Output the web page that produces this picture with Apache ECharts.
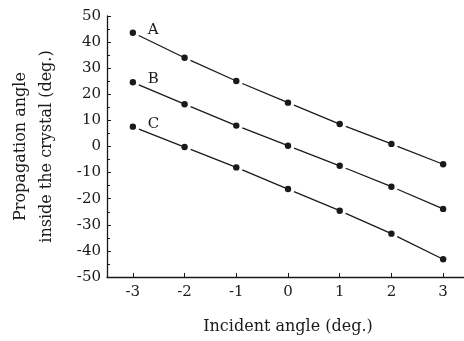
<!DOCTYPE html>
<html><head><meta charset="utf-8">
<script src="https://cdn.jsdelivr.net/npm/echarts@6/dist/echarts.min.js"></script>
<style>html,body{margin:0;padding:0;background:#fff}#c{width:464px;height:341px}</style>
</head><body><div id="c"></div>
<script>
var incident = [-3, -2, -1, 0, 1, 2, 3];
var seriesA = [43.6, 34.0, 25.1, 16.8, 8.6, 1.0, -6.8];
var seriesB = [24.6, 16.2, 8.0, 0.3, -7.4, -15.4, -23.9];
var seriesC = [7.6, -0.2, -8.0, -16.3, -24.6, -33.4, -43.2];
var seriesNames = ['A', 'B', 'C'];
var yTitle = 'Propagation angle\ninside the crystal (deg.)';
var xTitle = 'Incident angle (deg.)';
var FONT = 'DejaVu Serif';
var INK = '#1a1a1a';

function build(vals) {
  var d = [];
  for (var i = 0; i < vals.length; i++) {
    var nx = i < vals.length - 1 ? incident[i + 1] : incident[i];
    var ny = i < vals.length - 1 ? vals[i + 1] : vals[i];
    d.push([incident[i], vals[i], nx, ny, i]);
  }
  return d;
}
function makeSeries(name, vals) {
  return {
    type: 'custom',
    name: name,
    data: build(vals),
    encode: {x: 0, y: 1},
    z: 5,
    renderItem: function (params, api) {
      var p = api.coord([api.value(0), api.value(1)]);
      var q = api.coord([api.value(2), api.value(3)]);
      var idx = api.value(4);
      var children = [{
        type: 'circle',
        shape: {cx: p[0], cy: p[1], r: 3.2},
        style: {fill: INK}
      }];
      if (idx < incident.length - 1) {
        var dx = q[0] - p[0], dy = q[1] - p[1];
        var len = Math.sqrt(dx * dx + dy * dy);
        var g = 6.5;
        children.push({
          type: 'line',
          shape: {x1: p[0] + dx / len * g, y1: p[1] + dy / len * g, x2: q[0], y2: q[1]},
          style: {stroke: INK, lineWidth: 1.3}
        });
      }
      if (idx === 0) {
        children.push({
          type: 'text',
          style: {text: name, x: p[0] + 15, y: p[1] - 3, font: '15px "' + FONT + '"', fill: INK,
                  textAlign: 'left', textVerticalAlign: 'middle'}
        });
      }
      return {type: 'group', children: children};
    }
  };
}

var chart = echarts.init(document.getElementById('c'), null, {renderer: 'canvas'});
chart.setOption({
  animation: false,
  backgroundColor: '#fff',
  grid: {left: 107, right: -5, top: 16, bottom: 64, containLabel: false, outerBoundsMode: 'none'},
  xAxis: {
    type: 'value', min: -3.5, max: 3.5, splitNumber: 7,
    name: xTitle, nameLocation: 'middle', nameGap: 42,
    nameTextStyle: {fontFamily: FONT, fontSize: 16, color: INK},
    axisLine: {onZero: false, lineStyle: {color: INK, width: 1.3}},
    axisTick: {show: true, inside: true, length: 4, lineStyle: {color: INK}},
    axisLabel: {fontFamily: FONT, fontSize: 15, color: INK, margin: 8,
      showMinLabel: false, showMaxLabel: false,
      formatter: function (v) { return Math.abs(v - Math.round(v)) < 1e-6 ? String(Math.round(v)) : ''; }},
    splitLine: {show: false}
  },
  yAxis: {
    type: 'value', min: -50, max: 50, interval: 10,
    name: yTitle, nameLocation: 'middle', nameGap: 47, nameRotate: 90,
    nameTextStyle: {fontFamily: FONT, fontSize: 16, color: INK, lineHeight: 26},
    axisLine: {onZero: false, lineStyle: {color: INK, width: 1.3}},
    axisTick: {show: true, inside: true, length: 4, lineStyle: {color: INK}},
    minorTick: {show: true, splitNumber: 2, length: 3, lineStyle: {color: INK}},
    axisLabel: {fontFamily: FONT, fontSize: 15, color: INK, margin: 6},
    splitLine: {show: false}
  },
  series: [makeSeries(seriesNames[0], seriesA), makeSeries(seriesNames[1], seriesB), makeSeries(seriesNames[2], seriesC)]
});
</script></body></html>
